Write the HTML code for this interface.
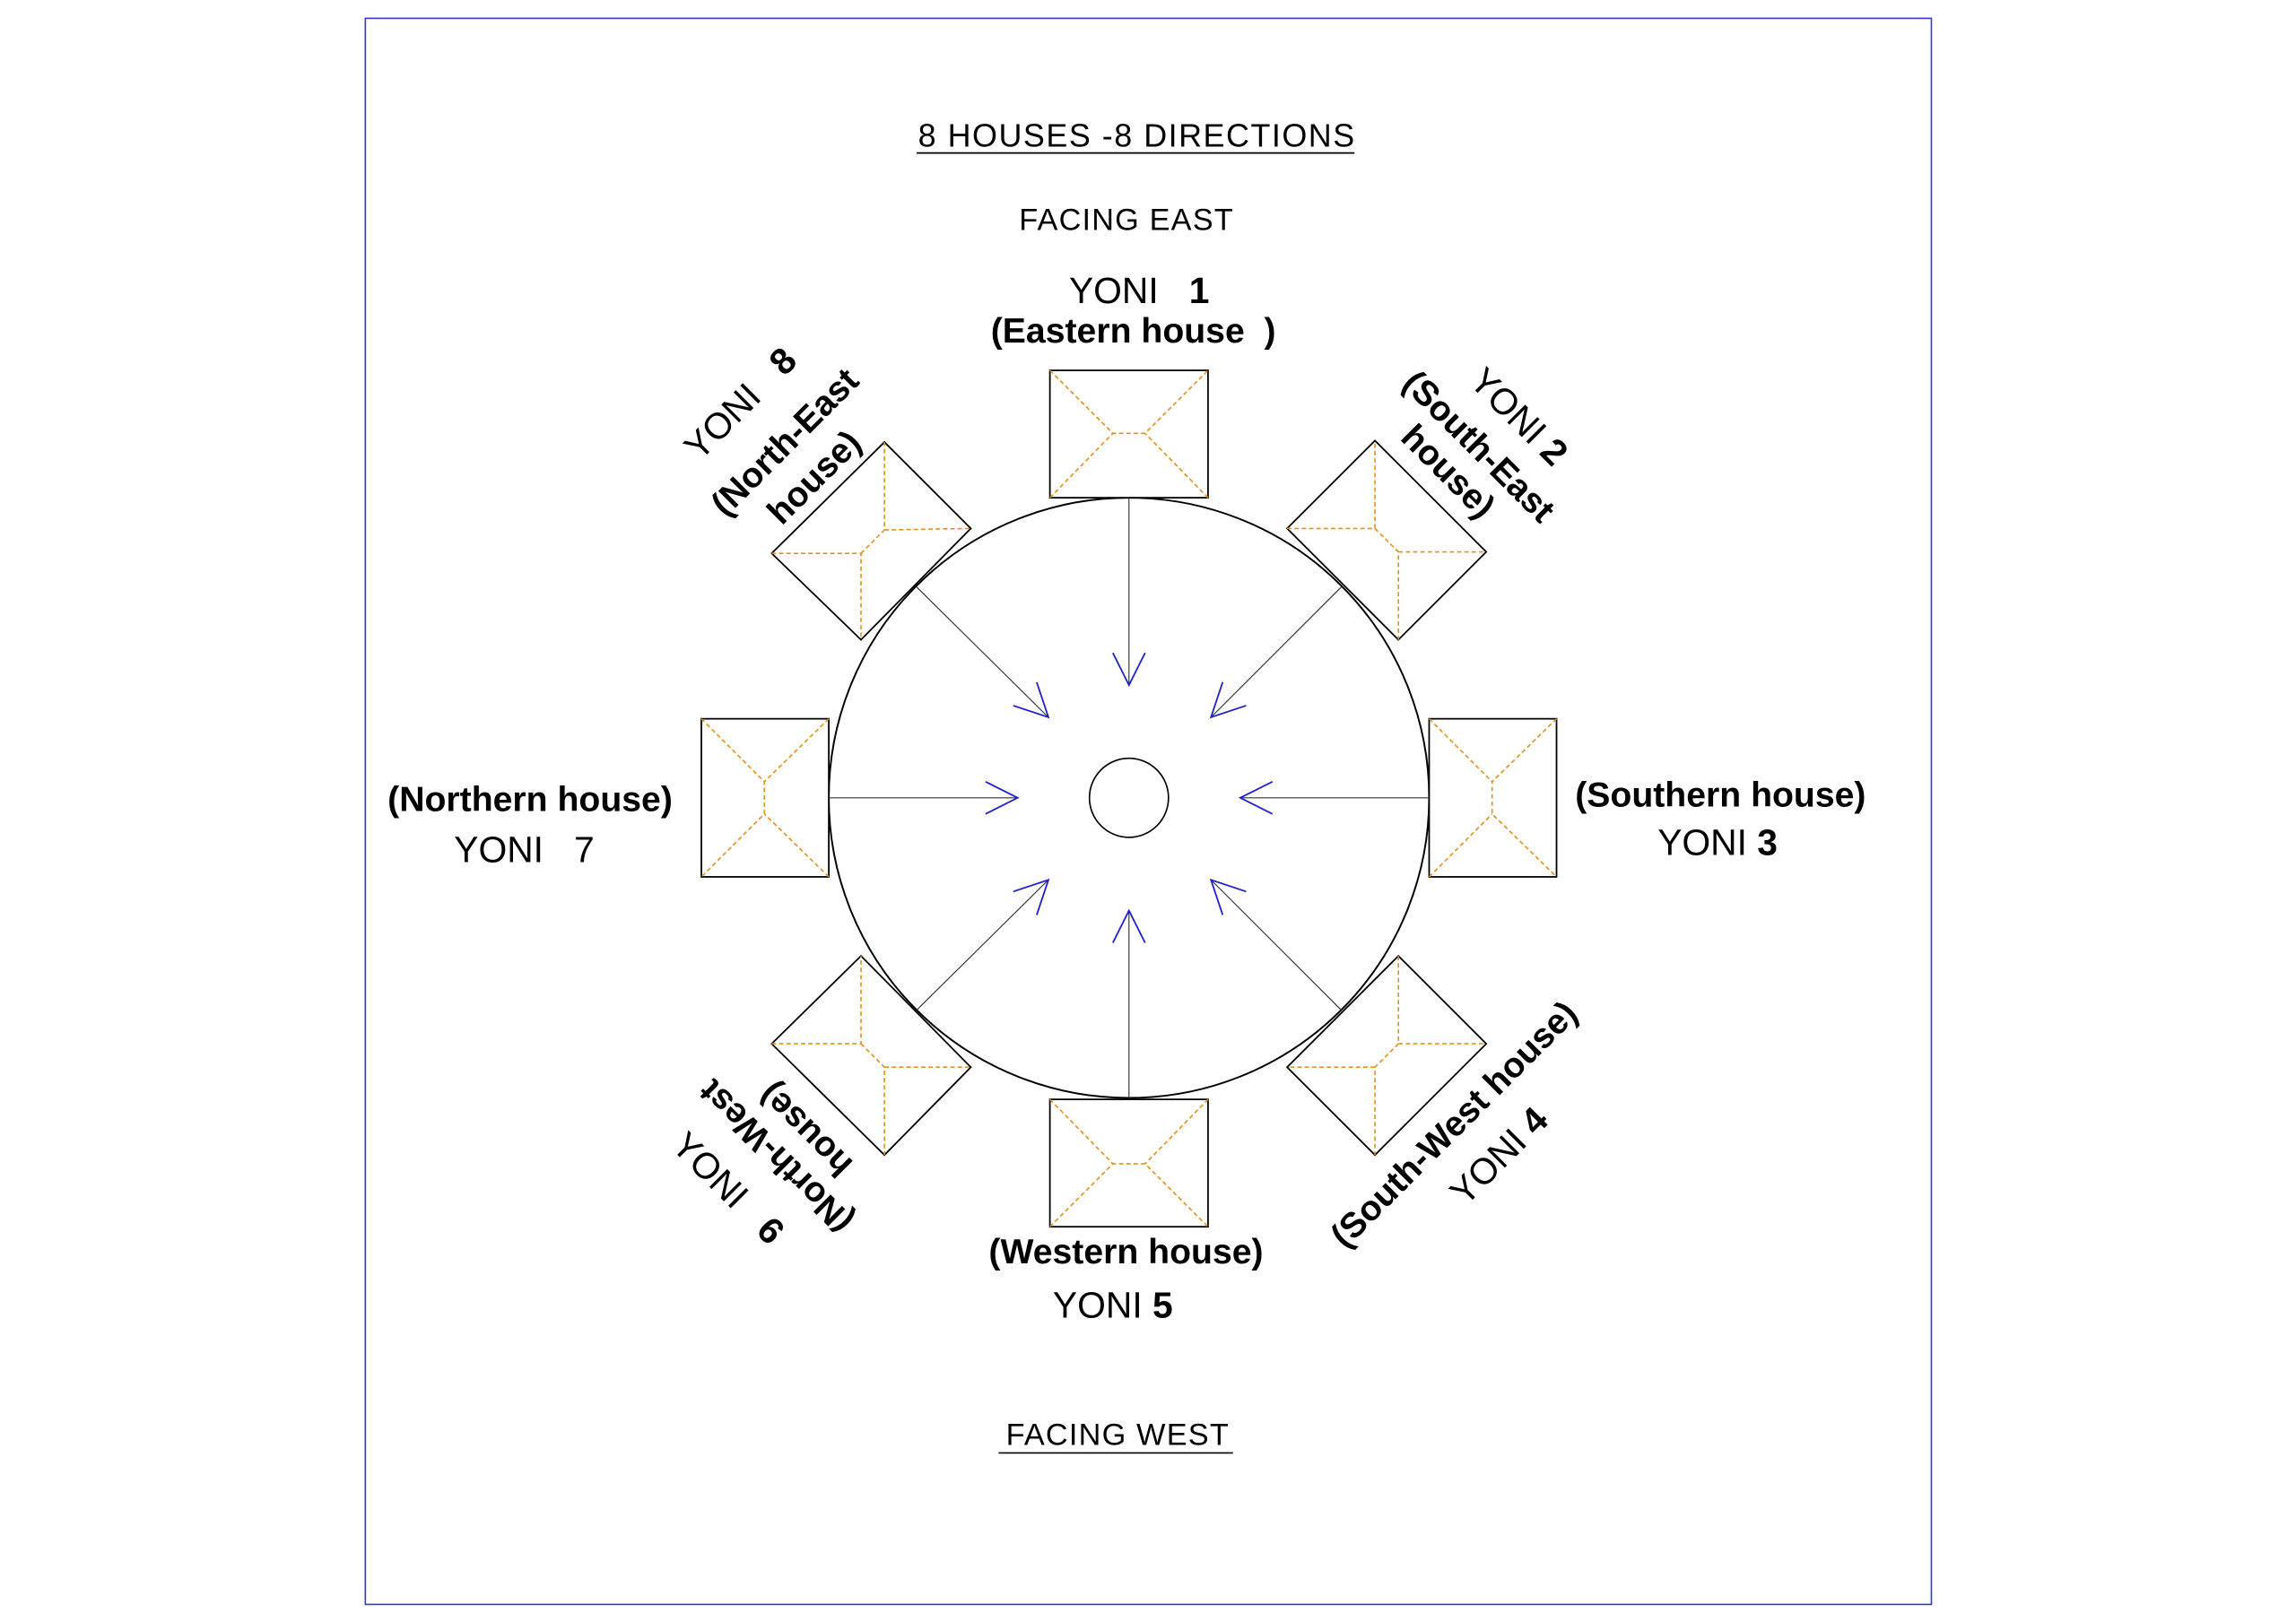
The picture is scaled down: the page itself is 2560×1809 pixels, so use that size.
<!DOCTYPE html>
<html><head><meta charset="utf-8"><style>
html,body{margin:0;padding:0;background:#fff;}
svg{display:block;}
text{font-family:"Liberation Sans",Arial,sans-serif;fill:#000;}
.b{font-weight:bold;}
</style></head><body>
<svg width="2560" height="1809" viewBox="0 0 1568 1108" xmlns="http://www.w3.org/2000/svg">
<rect x="249.5" y="12.5" width="1069.5" height="1083.5" fill="none" stroke="#3a3ad0" stroke-width="1"/>

<text x="776" y="100" font-size="22" text-anchor="middle" textLength="298">8 HOUSES -8 DIRECTIONS</text>
<line x1="626" y1="104.5" x2="925" y2="104.5" stroke="#000" stroke-width="1"/>
<text x="769" y="157" font-size="21" text-anchor="middle" textLength="146">FACING EAST</text>
<text x="778" y="207" font-size="25" text-anchor="middle" xml:space="preserve">YONI   <tspan class="b">1</tspan></text>
<text x="774" y="234" font-size="24" class="b" text-anchor="middle" xml:space="preserve">(Eastern house  )</text>

<text x="763" y="987" font-size="21" text-anchor="middle" textLength="152">FACING WEST</text>
<line x1="682" y1="992.5" x2="842" y2="992.5" stroke="#000" stroke-width="1"/>

<text x="362" y="554" font-size="24" class="b" text-anchor="middle">(Northern house)</text>
<text x="358" y="589" font-size="25" text-anchor="middle" xml:space="preserve">YONI   7</text>
<text x="1175" y="551" font-size="24" class="b" text-anchor="middle">(Southern house)</text>
<text x="1173" y="584" font-size="25" text-anchor="middle">YONI <tspan class="b">3</tspan></text>
<text x="769" y="863" font-size="24" class="b" text-anchor="middle">(Western house)</text>
<text x="760" y="900" font-size="25" text-anchor="middle">YONI <tspan class="b">5</tspan></text>

<!-- NE labels -->
<g transform="translate(506,276) rotate(-45)"><text font-size="25" text-anchor="middle" y="8" xml:space="preserve">YONI   <tspan class="b">8</tspan></text></g>
<g transform="translate(536,302) rotate(-45)"><text font-size="24" class="b" text-anchor="middle" y="8">(North-East</text></g>
<g transform="translate(556,326) rotate(-45)"><text font-size="24" class="b" text-anchor="middle" y="8">house)</text></g>
<!-- SE labels -->
<g transform="translate(1037,285) rotate(45)"><text font-size="25" text-anchor="middle" y="8">YONI <tspan class="b">2</tspan></text></g>
<g transform="translate(1010,305) rotate(45)"><text font-size="24" class="b" text-anchor="middle" y="8">(South-East</text></g>
<g transform="translate(989,322) rotate(45)"><text font-size="24" class="b" text-anchor="middle" y="8">house)</text></g>
<!-- SW labels -->
<g transform="translate(993,768) rotate(-45)"><text font-size="24" class="b" text-anchor="middle" y="8">(South-West house)</text></g>
<g transform="translate(1024,790) rotate(-45)"><text font-size="25" text-anchor="middle" y="8">YONI <tspan class="b">4</tspan></text></g>
<!-- NW labels -->
<g transform="translate(550,772) rotate(-135)"><text font-size="24" class="b" text-anchor="middle" y="8">house)</text></g>
<g transform="translate(530,790) rotate(-135)"><text font-size="24" class="b" text-anchor="middle" y="8">(North-West</text></g>
<g transform="translate(497,812) rotate(45)"><text font-size="25" text-anchor="middle" y="8" xml:space="preserve">YONI   <tspan class="b">6</tspan></text></g>

<!-- circles -->
<circle cx="771" cy="545" r="205" fill="none" stroke="#000" stroke-width="1.2"/>
<circle cx="771" cy="545" r="27" fill="none" stroke="#000" stroke-width="1"/>

<!-- connector lines -->
<g stroke="#333" stroke-width="0.7" fill="none">
<line x1="771" y1="340" x2="771" y2="468"/>
<line x1="771" y1="751" x2="771" y2="622"/>
<line x1="566" y1="545" x2="695" y2="545"/>
<line x1="976" y1="545" x2="847" y2="545"/>
<line x1="626" y1="401" x2="716" y2="490"/>
<line x1="916" y1="401" x2="827" y2="490"/>
<line x1="626" y1="690" x2="716" y2="601"/>
<line x1="916" y1="690" x2="827" y2="601"/>
</g>
<!-- arrowheads -->
<g stroke="#2020d0" stroke-width="1.1" fill="none">
<polyline points="760,446 771,468 782,446"/>
<polyline points="760,644 771,622 782,644"/>
<polyline points="673,534 695,545 673,556"/>
<polyline points="869,534 847,545 869,556"/>
<polyline points="692,482 716,490 708,466"/>
<polyline points="851,482 827,490 835,466"/>
<polyline points="692,609 716,601 708,625"/>
<polyline points="851,609 827,601 835,625"/>
</g>

<!-- houses -->
<g fill="#fff" stroke="#000" stroke-width="1.1">
<rect x="717" y="253" width="108" height="87"/>
<rect x="717" y="751" width="108" height="87"/>
<rect x="479" y="491" width="87" height="108"/>
<rect x="976" y="491" width="87" height="108"/>
<polygon points="604,302 663,361 588,437 527,378"/>
<polygon points="939,301 1015,377 955,437 879,361"/>
<polygon points="588,653 663,729 604,789 527,713"/>
<polygon points="955,653 1015,713 939,789 879,729"/>
</g>
<g stroke="#e8901a" stroke-width="1" stroke-dasharray="3,2" fill="none">
<polyline points="717,253 760,296 782,296 825,253"/>
<polyline points="717,340 760,296"/><polyline points="825,340 782,296"/>
<polyline points="717,838 760,795 782,795 825,838"/>
<polyline points="717,751 760,795"/><polyline points="825,751 782,795"/>
<polyline points="479,491 522,534 522,556 479,599"/>
<polyline points="566,491 522,534"/><polyline points="566,599 522,556"/>
<polyline points="1063,491 1019,534 1019,556 1063,599"/>
<polyline points="976,491 1019,534"/><polyline points="976,599 1019,556"/>
<polyline points="527,378 588,378 588,437"/><polyline points="588,378 604,362 604,302"/><polyline points="604,362 663,361"/>
<polyline points="879,361 939,361 939,301"/><polyline points="939,361 955,377 955,437"/><polyline points="955,377 1015,377"/>
<polyline points="527,713 588,713 588,653"/><polyline points="588,713 604,729 604,789"/><polyline points="604,729 663,729"/>
<polyline points="955,653 955,713 1015,713"/><polyline points="955,713 939,729 939,789"/><polyline points="939,729 879,729"/>
</g>
</svg>
</body></html>
